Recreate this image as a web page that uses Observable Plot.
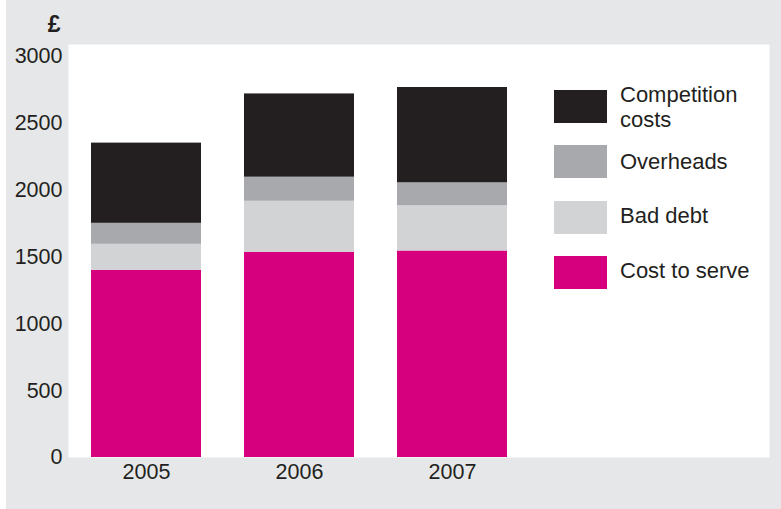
<!DOCTYPE html>
<html><head><meta charset="utf-8">
<script src="https://cdn.jsdelivr.net/npm/d3@7"></script>
<script src="https://cdn.jsdelivr.net/npm/@observablehq/plot@0.6"></script>
<style>
body{margin:0;background:#fff;font-family:"Liberation Sans",Arial,sans-serif;}
#wrap{position:relative;width:781px;height:509px;overflow:hidden;}
#chart{position:absolute;left:6px;top:0;}
.sw{position:absolute;left:554px;width:53px;height:33px;}
.lt{position:absolute;left:620px;font-size:22px;line-height:25px;color:#231f20;white-space:nowrap;}
</style></head><body>
<div id="wrap"><div id="chart"></div><div id="legend"></div></div>
<script>
const years = ["2005", "2006", "2007"];
const seriesNames = ["Cost to serve", "Bad debt", "Overheads", "Competition costs"];
const costToServe = [1400, 1535, 1545];
const badDebt = [195, 382, 338];
const overheads = [157, 180, 172];
const competitionCosts = [600, 623, 713];
const yTicks = [0, 500, 1000, 1500, 2000, 2500, 3000];
const seriesColors = ["#d6007f", "#d1d3d4", "#a7a9ac", "#231f20"];

const seriesValues = [costToServe, badDebt, overheads, competitionCosts];
const data = [];
seriesNames.forEach((s, i) => years.forEach((y, j) => data.push({year: y, series: s, value: seriesValues[i][j]})));

const plot = Plot.plot({
  width: 775,
  height: 509,
  marginLeft: 62,
  marginRight: 12,
  marginTop: 44,
  marginBottom: 52,
  style: {background: "#e6e7e8", fontFamily: "'Liberation Sans', Arial, sans-serif", fontSize: "21px", color: "#231f20", overflow: "visible"},
  x: {domain: years, range: [62, 525], paddingInner: 0.279, paddingOuter: 0.143, label: null},
  y: {domain: [0, 3000], insetTop: 12, label: null},
  color: {domain: seriesNames, range: seriesColors},
  marks: [
    Plot.frame({fill: "white", stroke: null}),
    Plot.barY(data, {x: "year", y: "value", fill: "series", order: seriesNames}),
    Plot.axisX({tickSize: 0, tickPadding: 6, fontSize: 21.5, label: null}),
    Plot.axisY({ticks: yTicks, tickFormat: d => String(d), tickSize: 0, tickPadding: 6, fontSize: 21.5, label: null}),
    Plot.text(["£"], {frameAnchor: "top-left", dx: -8, dy: -29, textAnchor: "end", fontSize: 23, fontWeight: 600, fill: "#231f20"})
  ]
});
document.getElementById("chart").appendChild(plot);

const legendTop = [90, 145, 201, 256];
const legendTextTop = [81.6, 148.6, 203.2, 257.6];
const legendOrder = [3, 2, 1, 0];
const legendLabels = {"Competition costs": "Competition<br>costs"};
const leg = document.getElementById("legend");
legendOrder.forEach((si, k) => {
  const sw = document.createElement("div");
  sw.className = "sw";
  sw.style.top = legendTop[k] + "px";
  sw.style.background = seriesColors[si];
  leg.appendChild(sw);
  const t = document.createElement("div");
  t.className = "lt";
  t.style.top = legendTextTop[k] + "px";
  t.innerHTML = legendLabels[seriesNames[si]] || seriesNames[si];
  leg.appendChild(t);
});
</script>
</body></html>
